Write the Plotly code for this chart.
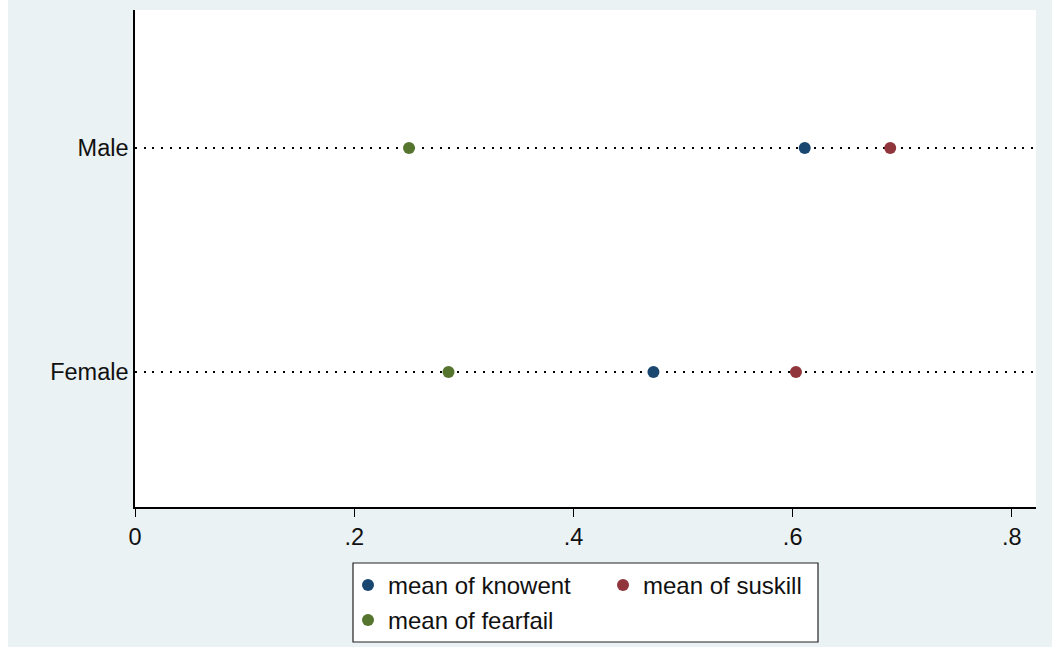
"""Dot chart — mean of knowent / suskill / fearfail by gender (Stata s2color look)."""
import plotly.graph_objects as go

grupos = ["Female", "Male"]
knowent = [0.473, 0.611]
suskill = [0.603, 0.689]
fearfail = [0.286, 0.250]

xticks = [0, 0.2, 0.4, 0.6, 0.8]
xtick_text = ["0", ".2", ".4", ".6", ".8"]

BG = "#eaf2f3"
FONTE = "Liberation Sans, Arial, sans-serif"
W, H = 1052, 647
L, R, T, B = 135, 16, 10, 140
pw, ph = W - L - R, H - T - B

def px(x):  # pixel -> paper x
    return (x - L) / pw

def py(y):  # pixel -> paper y
    return (H - B - y) / ph

ypos = list(range(len(grupos)))

fig = go.Figure()
series = [
    ("mean of knowent", knowent, "#1a476f", "legend"),
    ("mean of suskill", suskill, "#90353b", "legend"),
    ("mean of fearfail", fearfail, "#55752f", "legend2"),
]
for nome, vals, cor, leg in series:
    fig.add_trace(go.Scatter(
        x=vals, y=ypos, mode="markers", name=nome, legend=leg,
        marker=dict(size=12, color=cor),
        hovertemplate="%{x:.3f}<extra>" + nome + "</extra>",
    ))

# caixa da legenda + faixa branca à esquerda
fig.add_shape(type="rect", xref="paper", yref="paper",
              x0=px(353), x1=px(818), y0=py(642), y1=py(563),
              line=dict(color="#222", width=1.2), fillcolor="white", layer="below")
fig.add_shape(type="rect", xref="paper", yref="paper",
              x0=px(-2), x1=px(8), y0=py(H + 2), y1=py(-2),
              line=dict(width=0), fillcolor="white", layer="below")

fig.update_layout(
    width=W, height=H, autosize=False,
    margin=dict(l=L, r=R, t=T, b=B, autoexpand=False),
    paper_bgcolor=BG, plot_bgcolor="white",
    font=dict(family=FONTE, size=23.5, color="#111"),
    xaxis=dict(range=[0, 0.822], tickvals=xticks, ticktext=xtick_text,
               showgrid=False, zeroline=False, showline=True, linecolor="black", linewidth=1.5,
               ticks="outside", ticklen=8, tickcolor="black", tickwidth=1,
               tickfont=dict(size=23.5)),
    yaxis=dict(range=[-0.603, 1.616], tickvals=ypos, ticktext=grupos,
               showgrid=True, gridcolor="black", gridwidth=2, griddash="2px,6.7px",
               zeroline=False, showline=True, linecolor="black", linewidth=1.5,
               ticks="", tickfont=dict(size=23.5)),
    legend=dict(orientation="h", x=px(348), y=py(563), xanchor="left", yanchor="top",
                entrywidth=210, bgcolor="rgba(0,0,0,0)", font=dict(size=24),
                itemsizing="constant", tracegroupgap=0),
    legend2=dict(orientation="h", x=px(348), y=py(598), xanchor="left", yanchor="top",
                 bgcolor="rgba(0,0,0,0)", font=dict(size=24), itemsizing="constant"),
    showlegend=True,
)

fig.write_html("out.html",
               config={"displayModeBar": False, "responsive": False},
               post_script="document.body.style.margin='0';document.body.style.overflow='hidden';")
